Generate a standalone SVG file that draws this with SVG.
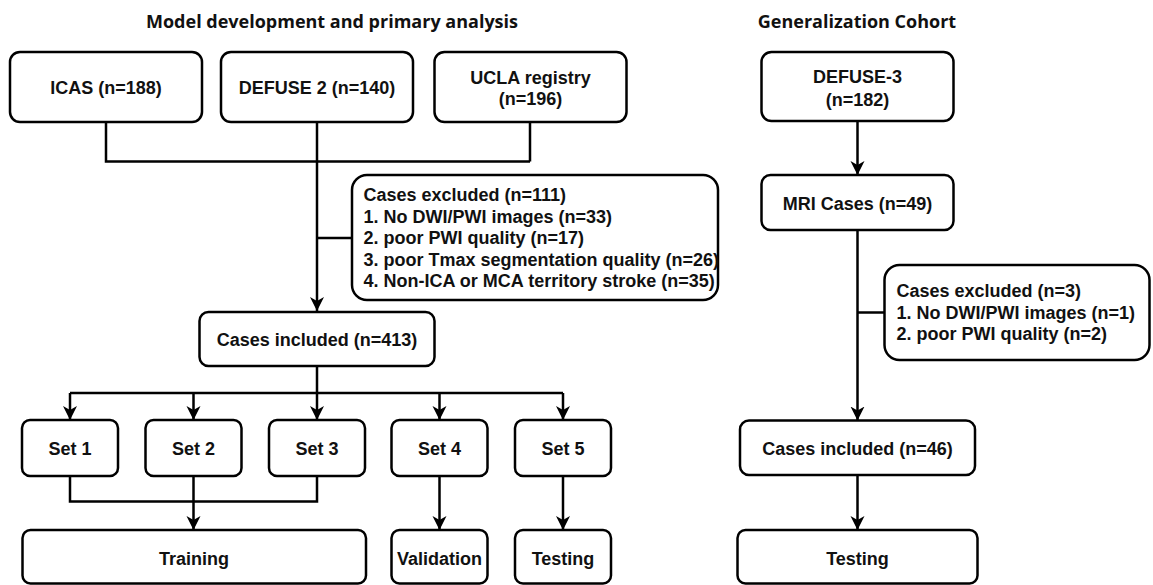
<svg xmlns="http://www.w3.org/2000/svg" width="1153" height="585" viewBox="0 0 1153 585">
<style>
.box{fill:#fff;stroke:#000;stroke-width:2.5}
.t{font-family:"Liberation Sans",Arial,sans-serif;font-weight:bold;font-size:18px;fill:#111}
.c{text-anchor:middle}
.title{font-family:"Open Sans","Liberation Sans",sans-serif;font-weight:bold;font-size:18px;fill:#111;text-anchor:middle}
.ln{fill:none;stroke:#000;stroke-width:2.5}
.ar{fill:none;stroke:#000;stroke-width:2.5;marker-end:url(#arr)}
</style>
<defs>
<marker id="arr" markerUnits="userSpaceOnUse" markerWidth="16" markerHeight="16" refX="14" refY="8" orient="auto">
<path d="M14,8 L0,1 L4,8 L0,15 Z" fill="#000"/>
</marker>
</defs>
<text class="title" x="332" y="28">Model development and primary analysis</text>
<text class="title" x="857" y="28">Generalization Cohort</text>
<g id="connectors">
<path class="ln" d="M106,122 V161.5 H530 M530,122 V161.5"/>
<path class="ar" d="M317,122 V311"/>
<path class="ln" d="M317,238 H352"/>
<path class="ln" d="M317,366 V393 M70,393 H563"/>
<path class="ar" d="M70,393 V420"/>
<path class="ar" d="M193.5,393 V420"/>
<path class="ar" d="M317,393 V420"/>
<path class="ar" d="M439.5,393 V420"/>
<path class="ar" d="M563,393 V420"/>
<path class="ln" d="M70,476 V501.5 H317 V476"/>
<path class="ar" d="M193.5,476 V530"/>
<path class="ar" d="M439.5,476 V530"/>
<path class="ar" d="M563,476 V530"/>
<path class="ar" d="M857.5,121 V175"/>
<path class="ar" d="M857.5,230 V420.5"/>
<path class="ln" d="M857.5,312.5 H884.5"/>
<path class="ar" d="M857.5,475 V530"/>
</g>
<g id="icas"><rect class="box" x="10" y="52" width="192" height="70" rx="10"/><text class="t c" x="106" y="94">ICAS (n=188)</text></g>
<g id="defuse2"><rect class="box" x="221" y="52" width="192" height="70" rx="10"/><text class="t c" x="317" y="94">DEFUSE 2 (n=140)</text></g>
<g id="ucla"><rect class="box" x="434.5" y="52" width="192" height="70" rx="10"/><text class="t c" x="530.5" y="83.5">UCLA registry</text><text class="t c" x="530.5" y="105">(n=196)</text></g>
<g id="excluded1"><rect class="box" x="352" y="175" width="366" height="125" rx="15"/>
<text class="t" x="363.5" y="201">Cases excluded (n=111)</text>
<text class="t" x="363.5" y="222.5">1. No DWI/PWI images (n=33)</text>
<text class="t" x="363.5" y="244">2. poor PWI quality (n=17)</text>
<text class="t" x="363.5" y="265.5">3. poor Tmax segmentation quality (n=26)</text>
<text class="t" x="363.5" y="287">4. Non-ICA or MCA territory stroke (n=35)</text></g>
<g id="included1"><rect class="box" x="199.5" y="312" width="235" height="54" rx="9"/><text class="t c" x="317" y="345.5">Cases included (n=413)</text></g>
<g id="set1"><rect class="box" x="22" y="420" width="96" height="56" rx="8"/><text class="t c" x="70" y="455">Set 1</text></g>
<g id="set2"><rect class="box" x="145.5" y="420" width="96" height="56" rx="8"/><text class="t c" x="193.5" y="455">Set 2</text></g>
<g id="set3"><rect class="box" x="269" y="420" width="96" height="56" rx="8"/><text class="t c" x="317" y="455">Set 3</text></g>
<g id="set4"><rect class="box" x="391.5" y="420" width="96" height="56" rx="8"/><text class="t c" x="439.5" y="455">Set 4</text></g>
<g id="set5"><rect class="box" x="515" y="420" width="96" height="56" rx="8"/><text class="t c" x="563" y="455">Set 5</text></g>
<g id="training"><rect class="box" x="22.5" y="530" width="343.5" height="53.5" rx="8"/><text class="t c" x="194" y="565">Training</text></g>
<g id="validation"><rect class="box" x="391.5" y="530" width="96" height="53.5" rx="8"/><text class="t c" x="439.5" y="565">Validation</text></g>
<g id="testing1"><rect class="box" x="515" y="530" width="96" height="53.5" rx="8"/><text class="t c" x="563" y="565">Testing</text></g>
<g id="defuse3"><rect class="box" x="761.5" y="52" width="192" height="69" rx="10"/><text class="t c" x="857.5" y="83">DEFUSE-3</text><text class="t c" x="857.5" y="106">(n=182)</text></g>
<g id="mri"><rect class="box" x="761.5" y="175" width="192" height="55" rx="9"/><text class="t c" x="857.5" y="209.5">MRI Cases (n=49)</text></g>
<g id="excluded2"><rect class="box" x="884.5" y="265" width="265" height="95" rx="15"/>
<text class="t" x="896.5" y="297">Cases excluded (n=3)</text>
<text class="t" x="896.5" y="318.5">1. No DWI/PWI images (n=1)</text>
<text class="t" x="896.5" y="340">2. poor PWI quality (n=2)</text></g>
<g id="included2"><rect class="box" x="740" y="420.5" width="235" height="54.5" rx="9"/><text class="t c" x="857.5" y="454.5">Cases included (n=46)</text></g>
<g id="testing2"><rect class="box" x="737.5" y="530" width="240" height="53.5" rx="8"/><text class="t c" x="857.5" y="565">Testing</text></g>
</svg>
